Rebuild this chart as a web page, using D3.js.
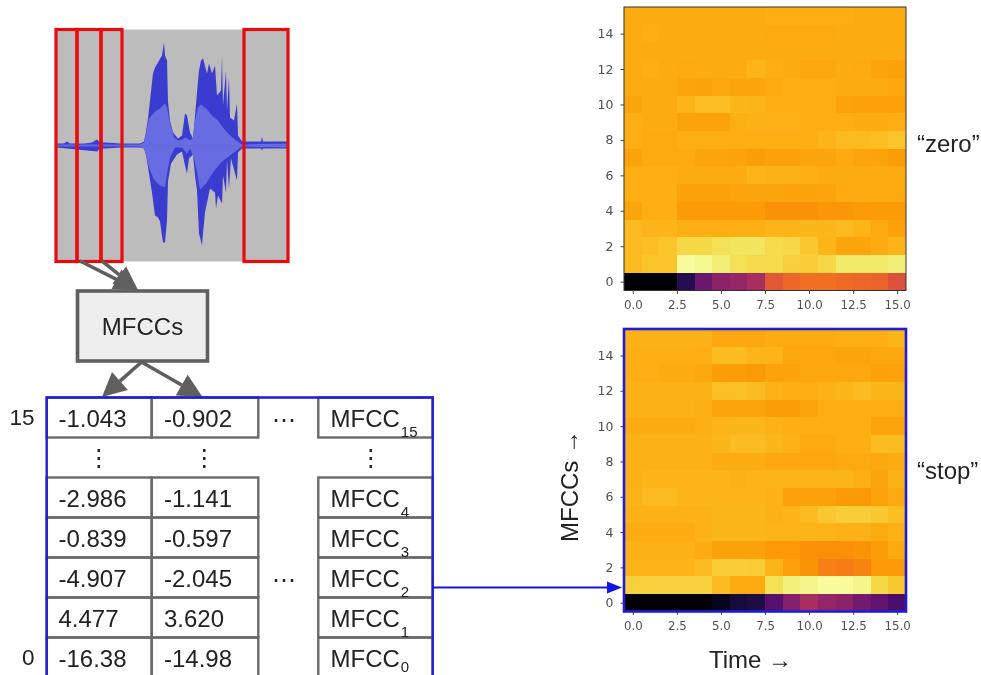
<!DOCTYPE html>
<html>
<head>
<meta charset="utf-8">
<script src="https://cdn.jsdelivr.net/npm/d3@7"></script>
<style>
	html, body { margin: 0; padding: 0; background: #fff; overflow: hidden; }
	svg { display: block; filter: blur(0.7px); font-family: "Liberation Sans", Arial, sans-serif; }
	.tick text { font-family: "DejaVu Sans", sans-serif; fill: #505050; }
	.tick line { stroke: #444; }
</style>
</head>
<body>
<div id="chart"></div>
<script>
// heatmap values, bottom row (MFCC 0) first, 0..1 on the inferno map
var zeroRows = [
	[.00,.00,.00,.14,.30,.38,.40,.45,.62,.66,.68,.68,.67,.66,.65,.60],
	[.84,.86,.86,.99,.98,.95,.92,.91,.91,.89,.88,.90,.94,.94,.94,.95],
	[.84,.85,.86,.90,.90,.92,.93,.93,.91,.90,.87,.83,.80,.80,.81,.83],
	[.84,.83,.83,.82,.82,.82,.82,.82,.83,.83,.835,.835,.84,.83,.81,.79],
	[.80,.82,.82,.78,.78,.78,.78,.78,.76,.76,.76,.77,.77,.775,.78,.78],
	[.82,.82,.82,.79,.79,.79,.80,.80,.80,.795,.795,.80,.81,.81,.81,.81],
	[.82,.82,.82,.815,.815,.815,.815,.83,.825,.825,.82,.815,.815,.815,.815,.81],
	[.795,.81,.81,.81,.80,.80,.795,.785,.79,.79,.80,.80,.81,.80,.795,.785],
	[.82,.81,.81,.82,.82,.82,.82,.82,.82,.82,.82,.83,.84,.84,.85,.86],
	[.82,.815,.815,.795,.795,.795,.82,.825,.825,.825,.82,.82,.82,.815,.815,.82],
	[.80,.815,.815,.83,.85,.85,.835,.83,.82,.82,.82,.82,.795,.79,.79,.79],
	[.815,.815,.815,.80,.795,.805,.80,.80,.81,.82,.82,.82,.815,.815,.815,.805],
	[.815,.82,.815,.81,.815,.815,.815,.83,.82,.815,.805,.805,.815,.81,.80,.79],
	[.815,.815,.815,.815,.815,.815,.815,.815,.815,.815,.815,.815,.815,.815,.815,.815],
	[.815,.82,.815,.815,.815,.815,.815,.815,.81,.81,.81,.81,.815,.815,.815,.815],
	[.815,.815,.815,.815,.815,.815,.815,.815,.82,.82,.82,.82,.82,.815,.815,.815]
];
var stopRows = [
	[.00,.00,.00,.00,.00,.05,.10,.12,.25,.36,.45,.40,.38,.32,.28,.23],
	[.89,.89,.89,.89,.89,.84,.81,.81,.92,.96,.97,.99,.99,.97,.90,.87],
	[.83,.83,.83,.83,.84,.88,.88,.875,.83,.79,.765,.72,.71,.73,.775,.775],
	[.825,.825,.825,.825,.815,.79,.79,.79,.775,.775,.755,.755,.755,.765,.785,.81],
	[.815,.815,.815,.815,.825,.835,.835,.835,.83,.83,.835,.83,.825,.825,.815,.825],
	[.825,.825,.825,.825,.825,.835,.835,.835,.825,.83,.84,.87,.88,.88,.87,.85],
	[.83,.84,.84,.83,.83,.83,.83,.83,.825,.79,.79,.79,.775,.775,.795,.81],
	[.825,.83,.83,.83,.83,.83,.825,.83,.83,.83,.83,.83,.83,.82,.80,.825],
	[.825,.825,.825,.825,.825,.815,.815,.815,.805,.805,.805,.805,.81,.81,.805,.815],
	[.825,.825,.825,.825,.825,.835,.845,.845,.835,.825,.81,.81,.82,.82,.845,.845],
	[.815,.815,.815,.815,.82,.83,.835,.835,.825,.82,.82,.82,.82,.82,.80,.80],
	[.825,.825,.825,.825,.82,.80,.80,.80,.785,.785,.80,.82,.82,.82,.82,.82],
	[.825,.825,.825,.825,.825,.855,.855,.845,.825,.82,.82,.825,.835,.845,.835,.835],
	[.82,.82,.815,.815,.805,.785,.785,.775,.795,.795,.805,.805,.805,.805,.79,.795],
	[.82,.82,.82,.82,.82,.845,.845,.83,.83,.805,.805,.805,.80,.80,.805,.805],
	[.825,.825,.825,.825,.825,.805,.805,.805,.815,.815,.815,.815,.82,.82,.82,.835]
];
var xTicks = [0, 2.5, 5, 7.5, 10, 12.5, 15];
var yTicks = [0, 2, 4, 6, 8, 10, 12, 14];

// waveform envelopes, [time, amplitude]
var peakTop = [[0,2],[8,2],[11,4],[14,2],[29,2],[36,3],[41,6],[44,3],[50,3],[65,2],[84,2],[88,4],[90,14],[92,27],[94,45],[97,72],[99,78],[102,83],[106,90],[108,103],[109,90],[111,85],[112,44],[114,25],[117,13],[122,7],[126,10],[129,32],[131,30],[134,13],[137,7],[139,30],[141,53],[143,75],[145,85],[147,87],[151,72],[153,82],[156,72],[159,80],[161,50],[165,55],[166,89],[167,40],[170,75],[171,35],[173,68],[174,28],[178,25],[181,42],[182,10],[186,4],[188,4],[205,4],[206,9],[207,4],[232,4]];
var peakBottom = [[0,-2],[11,-3],[41,-6],[44,-3],[50,-3],[65,-2],[84,-2],[88,-3],[90,-9],[92,-22],[96,-47],[99,-70],[102,-72],[104,-76],[107,-97],[109,-97],[111,-75],[112,-36],[115,-18],[121,-9],[126,-6],[129,-20],[131,-28],[133,-13],[137,-9],[139,-30],[141,-45],[143,-88],[146,-100],[147,-88],[149,-67],[154,-43],[159,-47],[160,-63],[162,-50],[166,-58],[167,-30],[170,-47],[171,-15],[173,-43],[175,-13],[181,-35],[182,-7],[186,-3],[205,-3],[206,-5],[207,-3],[232,-3]];
var rmsTop = [[0,1],[84,1],[88,3],[90,12],[93,27],[99,34],[104,37],[109,42],[111,38],[114,22],[118,8],[122,5],[126,6],[130,8],[134,5],[137,8],[139,25],[142,38],[145,41],[151,36],[156,30],[162,25],[167,18],[172,12],[180,5],[186,1],[232,2]];
var rmsBottom = [[0,-1],[84,-1],[88,-3],[90,-10],[93,-22],[98,-34],[104,-40],[109,-42],[111,-28],[114,-12],[119,-2],[126,-2],[131,-8],[134,-3],[138,-12],[141,-27],[144,-44],[150,-38],[157,-27],[165,-17],[175,-9],[186,-1],[232,-2]];

// audio windows, start and end time
var windowStarts = [0, 21, 45, 188];
var windowEnds = [21, 45, 66, 232];

// table
var rowLabels = ["15", "gap", "4", "3", "2", "1", "0"];
var col0 = ["-1.043", "", "-2.986", "-0.839", "-4.907", "4.477", "-16.38"];
var col1 = ["-0.902", "", "-1.141", "-0.597", "-2.045", "3.620", "-14.98"];
var colNames = ["MFCC", "", "MFCC", "MFCC", "MFCC", "MFCC", "MFCC"];

var width = 981, height = 675;
var grey = "#5f5f5f", blue = "#1c1cdc", red = "#e80a0c";

var svg = d3.select("#chart").append("svg")
	.attr("width", width)
	.attr("height", height);

// --- waveform ---
var waveX = d3.scaleLinear().domain([0, 232]).range([56, 288]);
var waveY = d3.scaleLinear().domain([-116, 116]).range([261.5, 29.5]);

svg.append("rect")
	.attr("x", waveX(0))
	.attr("y", waveY(116))
	.attr("width", waveX(232) - waveX(0))
	.attr("height", waveY(-116) - waveY(116))
	.attr("fill", "#bcbcbc");

var waveArea = d3.area()
	.x(function (d) { return waveX(d[0]); })
	.y0(waveY(0))
	.y1(function (d) { return waveY(d[1]); });

[[peakTop, "#3a3cd0"], [peakBottom, "#3a3cd0"], [rmsTop, "#686ce2"], [rmsBottom, "#686ce2"]].forEach(function (s) {
	svg.append("path")
		.attr("d", waveArea(s[0]))
		.attr("fill", s[1]);
});

svg.selectAll("rect.win")
	.data(windowStarts)
	.enter()
	.append("rect")
	.attr("class", "win")
	.attr("x", function (d) { return waveX(d); })
	.attr("y", waveY(116))
	.attr("width", function (d, i) { return waveX(windowEnds[i]) - waveX(d); })
	.attr("height", waveY(-116) - waveY(116))
	.attr("fill", "none")
	.attr("stroke", red)
	.attr("stroke-width", 3.2);

// --- arrows ---
function arrow(x1, y1, x2, y2, color, lineWidth, headLen, headHalf) {
	var a = Math.atan2(y2 - y1, x2 - x1);
	var bx = x2 - headLen * Math.cos(a), by = y2 - headLen * Math.sin(a);
	var nx = -Math.sin(a) * headHalf, ny = Math.cos(a) * headHalf;
	svg.append("line")
		.attr("x1", x1).attr("y1", y1).attr("x2", bx).attr("y2", by)
		.attr("stroke", color).attr("stroke-width", lineWidth);
	svg.append("path")
		.attr("d", d3.line()([[x2, y2], [bx + nx, by + ny], [bx - nx, by - ny]]) + "Z")
		.attr("fill", color);
}

arrow(80, 261, 138, 290, grey, 3.6, 24, 11);
arrow(102, 261, 138, 290, grey, 3.6, 24, 11);
arrow(141.5, 362, 102, 397, grey, 3.6, 24, 12);
arrow(141.5, 362, 202.5, 397, grey, 3.6, 24, 12);

// --- MFCC box ---
svg.append("rect")
	.attr("x", 77.5).attr("y", 291)
	.attr("width", 130).attr("height", 70)
	.attr("fill", "#eeeeee")
	.attr("stroke", grey)
	.attr("stroke-width", 3.6);

svg.append("text")
	.attr("x", 142.5).attr("y", 335)
	.attr("text-anchor", "middle")
	.attr("font-size", 24)
	.attr("fill", "#222")
	.text("MFCCs");

// --- table ---
var rowY = d3.scaleBand().domain(rowLabels).range([397.5, 677.5]);
var tableEdges = [46.7, 151.7, 258.3, 318.3, 432.7];
var rowIdx = d3.range(rowLabels.length).filter(function (i) { return rowLabels[i] !== "gap"; });

[[0, 1], [1, 2], [3, 4]].forEach(function (c) {
	svg.append("g").selectAll("rect")
		.data(rowIdx)
		.enter()
		.append("rect")
		.attr("x", tableEdges[c[0]])
		.attr("y", function (i) { return rowY(rowLabels[i]); })
		.attr("width", tableEdges[c[1]] - tableEdges[c[0]])
		.attr("height", rowY.bandwidth())
		.attr("fill", "none")
		.attr("stroke", "#6a6a6a")
		.attr("stroke-width", 2.4);
});

function cellText(values, x) {
	svg.append("g").selectAll("text")
		.data(rowIdx)
		.enter()
		.append("text")
		.attr("x", x)
		.attr("y", function (i) { return rowY(rowLabels[i]) + 29.3; })
		.attr("font-size", 24)
		.attr("fill", "#222")
		.text(function (i) { return values[i]; })
		.append("tspan")
		// last subscript sits on the page edge
		.attr("dy", function (i) { return rowLabels[i] === "0" ? 5 : 10; })
		.attr("dx", 1)
		.attr("font-size", 15)
		.text(function (i) { return values === colNames ? rowLabels[i] : ""; });
}

cellText(col0, 58.5);
cellText(col1, 164);
cellText(colNames, 330.5);

// row numbers at the left of the table
["15", "0"].forEach(function (r) {
	svg.append("text")
		.attr("x", 34.5)
		.attr("y", rowY(r) + 27.5)
		.attr("text-anchor", "end")
		.attr("font-size", 22.5)
		.attr("fill", "#222")
		.text(r);
});

// dots between the cells
[98.7, 204.3, 370.7].forEach(function (x) {
	svg.append("text")
		.attr("x", x)
		.attr("y", rowY("gap") + 28)
		.attr("text-anchor", "middle")
		.attr("font-family", "DejaVu Sans")
		.attr("font-size", 24)
		.attr("fill", "#222")
		.text("\u22EE");
});
["15", "2"].forEach(function (r) {
	svg.append("text")
		.attr("x", 284)
		.attr("y", rowY(r) + 30)
		.attr("text-anchor", "middle")
		.attr("font-family", "DejaVu Sans")
		.attr("font-size", 24)
		.attr("fill", "#222")
		.text("\u22EF");
});

// blue frame, open at the bottom of the page
svg.append("path")
	.attr("d", d3.line()([[tableEdges[0], 680], [tableEdges[0], 397.5], [tableEdges[4], 397.5], [tableEdges[4], 680]]))
	.attr("fill", "none")
	.attr("stroke", blue)
	.attr("stroke-width", 2.4);

// --- heatmaps ---
function heatmap(rows, top, bottom, borderColor, borderWidth) {
	var left = 624, right = 906;
	var x = d3.scaleLinear().domain([-0.5, 15.5]).range([left, right]);
	var y = d3.scaleLinear().domain([-0.5, 15.5]).range([bottom, top]);
	var color = d3.scaleSequential(d3.interpolateInferno).domain([0, 1]);
	var g = svg.append("g");

	rows.forEach(function (row, r) {
		g.append("g").selectAll("rect")
			.data(row)
			.enter()
			.append("rect")
			.attr("x", function (d, c) { return x(c - 0.5); })
			.attr("y", y(r + 0.5))
			.attr("width", x(1) - x(0))
			.attr("height", y(0) - y(1))
			.attr("shape-rendering", "crispEdges")
			.attr("fill", function (d) { return color(d); });
	});

	g.append("g")
		.attr("transform", "translate(0," + bottom + ")")
		.call(d3.axisBottom(x).tickValues(xTicks).tickFormat(d3.format(".1f")).tickSize(3.5).tickPadding(7))
		.call(function (a) {
			a.select(".domain").remove();
			a.selectAll("text").attr("font-size", 11.8);
		});

	g.append("g")
		.attr("transform", "translate(" + left + ",0)")
		.call(d3.axisLeft(y).tickValues(yTicks).tickSize(3.5).tickPadding(7))
		.call(function (a) {
			a.select(".domain").remove();
			a.selectAll("text").attr("font-size", 12.5);
		});

	g.append("rect")
		.attr("x", left).attr("y", top)
		.attr("width", right - left).attr("height", bottom - top)
		.attr("fill", "none")
		.attr("stroke", borderColor)
		.attr("stroke-width", borderWidth);
}

heatmap(zeroRows, 7, 290.5, "#333", 1);
heatmap(stopRows, 329, 611.5, blue, 2.6);

// arrow from the MFCC2 row to the second heatmap
arrow(432.7, 587.5, 622, 587.5, "#1414e6", 2, 15, 6);

// --- labels ---
svg.append("text").attr("x", 917).attr("y", 152).attr("font-size", 24).attr("fill", "#222").text("\u201Czero\u201D");
svg.append("text").attr("x", 917).attr("y", 479).attr("font-size", 24).attr("fill", "#222").text("\u201Cstop\u201D");
svg.append("text").attr("x", 750.5).attr("y", 668).attr("text-anchor", "middle").attr("font-size", 24).attr("fill", "#222").text("Time \u2192");
svg.append("text")
	.attr("transform", "translate(578,486) rotate(-90)")
	.attr("text-anchor", "middle")
	.attr("font-size", 24)
	.attr("fill", "#222")
	.text("MFCCs \u2192");
</script>
</body>
</html>
